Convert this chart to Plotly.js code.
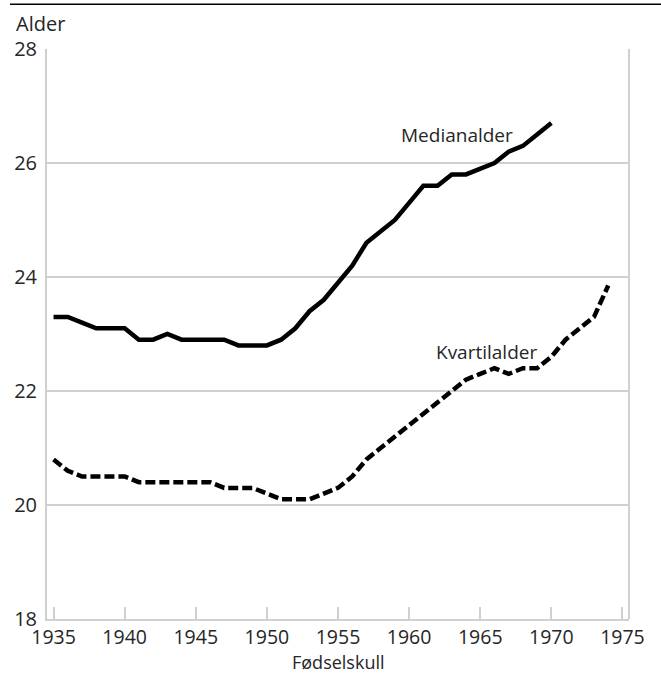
<!DOCTYPE html>
<html>
<head>
<meta charset="utf-8">
<script src="https://cdn.plot.ly/plotly-3.0.1.min.js"></script>
<style>
html, body { margin: 0; padding: 0; background: #fff; }
#chart { width: 661px; height: 675px; }
</style>
</head>
<body>
<div id="chart"></div>
<script>
// Data
const medianYears = [1935,1936,1937,1938,1939,1940,1941,1942,1943,1944,1945,1946,1947,1948,1949,1950,1951,1952,1953,1954,1955,1956,1957,1958,1959,1960,1961,1962,1963,1964,1965,1966,1967,1968,1969,1970];
const medianAge = [23.3,23.3,23.2,23.1,23.1,23.1,22.9,22.9,23.0,22.9,22.9,22.9,22.9,22.8,22.8,22.8,22.9,23.1,23.4,23.6,23.9,24.2,24.6,24.8,25.0,25.3,25.6,25.6,25.8,25.8,25.9,26.0,26.2,26.3,26.5,26.7];

const quartileYears = [1935,1936,1937,1938,1939,1940,1941,1942,1943,1944,1945,1946,1947,1948,1949,1950,1951,1952,1953,1954,1955,1956,1957,1958,1959,1960,1961,1962,1963,1964,1965,1966,1967,1968,1969,1970,1971,1972,1973,1974];
const quartileAge = [20.8,20.6,20.5,20.5,20.5,20.5,20.4,20.4,20.4,20.4,20.4,20.4,20.3,20.3,20.3,20.2,20.1,20.1,20.1,20.2,20.3,20.5,20.8,21.0,21.2,21.4,21.6,21.8,22.0,22.2,22.3,22.4,22.3,22.4,22.4,22.6,22.9,23.1,23.3,23.85];

const xTicks = [1935,1940,1945,1950,1955,1960,1965,1970,1975];
const yTicks = [18,20,22,24,26,28];

const labels = {
  yTitle: 'Alder',
  xTitle: 'Fødselskull',
  median: 'Medianalder',
  quartile: 'Kvartilalder'
};

const FONT = 'Open Sans, Noto Sans, sans-serif';
const TXT = '#262626';
const GRID = '#d0d0d0';

const traces = [
  {
    x: medianYears, y: medianAge, type: 'scatter', mode: 'lines',
    line: {color: '#000', width: 4.5}, hoverinfo: 'skip'
  },
  {
    x: quartileYears, y: quartileAge, type: 'scatter', mode: 'lines',
    line: {color: '#000', width: 4.5, dash: '10px,4px'}, hoverinfo: 'skip'
  }
];

const layout = {
  width: 661, height: 675,
  margin: {l: 47, r: 32, t: 49, b: 56},
  paper_bgcolor: '#fff', plot_bgcolor: '#fff',
  showlegend: false,
  font: {family: FONT, size: 20, color: TXT},
  xaxis: {
    range: [1934.54, 1975.46],
    tickvals: xTicks, ticktext: xTicks.map(String),
    ticks: 'inside', ticklen: 12, tickwidth: 2, tickcolor: GRID,
    showgrid: false, zeroline: false,
    showline: true, linecolor: GRID, linewidth: 2,
    mirror: false,
    tickfont: {family: FONT, size: 19.5, color: TXT}
  },
  yaxis: {
    range: [18, 28],
    tickvals: yTicks, ticktext: yTicks.map(String),
    ticks: '', showgrid: true, gridcolor: GRID, gridwidth: 2,
    zeroline: false, showline: true, linecolor: GRID, linewidth: 2,
    tickfont: {family: FONT, size: 20, color: TXT},
    ticklabelstandoff: 4
  },
  shapes: [
    {type: 'line', xref: 'paper', yref: 'paper', x0: -0.0636, x1: 1.06, y0: 1.0784, y1: 1.0784,
     line: {color: '#000', width: 1.5}},
    {type: 'line', xref: 'paper', yref: 'paper', x0: 1, x1: 1, y0: 0, y1: 1,
     line: {color: GRID, width: 2}}
  ],
  annotations: [
    {text: labels.yTitle, xref: 'paper', yref: 'paper', x: -0.0567, y: 1.045, xanchor: 'left', yanchor: 'middle',
     showarrow: false, font: {family: FONT, size: 20, color: TXT}},
    {text: labels.xTitle, xref: 'paper', yref: 'paper', x: 0.5, y: -0.0975, xanchor: 'center', yanchor: 'bottom',
     borderpad: 0, showarrow: false, font: {family: FONT, size: 18, color: TXT}},
    {text: labels.median, xref: 'x', yref: 'y', x: 1963.36, y: 26.5, xanchor: 'center', yanchor: 'middle',
     showarrow: false, font: {family: FONT, size: 19, color: TXT}},
    {text: labels.quartile, xref: 'x', yref: 'y', x: 1965.47, y: 22.68, xanchor: 'center', yanchor: 'middle',
     showarrow: false, font: {family: FONT, size: 19, color: TXT}}
  ]
};

Plotly.newPlot('chart', traces, layout, {displayModeBar: false, staticPlot: true});
</script>
</body>
</html>
